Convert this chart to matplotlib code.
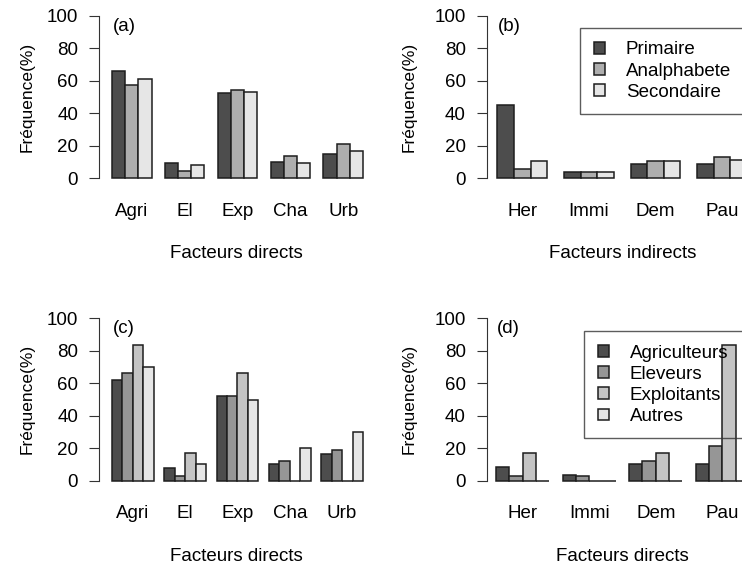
import numpy as np
import matplotlib
matplotlib.use('Agg')
import matplotlib.pyplot as plt

plt.rcParams['font.family'] = ['Liberation Sans', 'DejaVu Sans']

# donnees
cats_dir = ['Agri', 'El', 'Exp', 'Cha', 'Urb']
cats_ind = ['Her', 'Immi', 'Dem', 'Pau']

noms_edu = ['Primaire', 'Analphabete', 'Secondaire']
a_primaire = [66.0, 9.0, 52.5, 9.7, 14.6]
a_analpha = [57.6, 4.5, 54.1, 13.4, 21.2]
a_second = [60.9, 7.8, 52.9, 9.3, 16.9]

b_primaire = [45.1, 3.5, 8.6, 8.6]
b_analpha = [5.8, 3.5, 10.7, 13.2]
b_second = [10.7, 3.5, 10.7, 11.3]

noms_act = ['Agriculteurs', 'Eleveurs', 'Exploitants', 'Autres']
c_agri = [62.1, 7.8, 52.3, 10.0, 16.2]
c_elev = [66.4, 2.7, 52.3, 11.9, 18.6]
c_expl = [83.2, 16.8, 66.4, 0.0, 0.0]
c_autres = [69.9, 10.0, 49.8, 19.9, 29.9]

d_agri = [8.6, 3.3, 10.0, 10.0]
d_elev = [2.7, 3.1, 11.9, 21.3]
d_expl = [16.8, 0.0, 16.8, 83.2]
d_autres = [0.0, 0.0, 0.0, 0.0]

gris3 = ['#4D4D4D', '#AEAEAE', '#E6E6E6']
gris4 = ['#4D4D4D', '#969696', '#C4C4C4', '#E6E6E6']

W, H = 742, 566
fig = plt.figure(figsize=(W/100, H/100), dpi=100)
FS = 13.5


def rect(x0, x1, ytop, ybot):
    return [x0/W, 1 - ybot/H, (x1 - x0)/W, (ybot - ytop)/H]


def panel(r, xlim, cats, series, noms, cols, tag, xlab, ylab_x, leg=None):
    ax = fig.add_axes(r)
    n = len(series)
    for i, (vals, col) in enumerate(zip(series, cols)):
        x = 1 + np.arange(len(cats))*(n + 1) + i
        ax.bar(x, vals, width=1, align='edge', color=col,
               edgecolor='#1e1e1e', linewidth=1.1, label=noms[i])
    centres = 1 + np.arange(len(cats))*(n + 1) + n/2
    ax.set_xlim(*xlim)
    ax.set_ylim(-4, 104)
    ax.set_xticks(centres, cats)
    ax.set_yticks([0, 20, 40, 60, 80, 100])
    for s in ['top', 'right', 'bottom']:
        ax.spines[s].set_visible(False)
    ax.spines['left'].set_bounds(0, 100)
    ax.spines['left'].set_color('#333333')
    ax.tick_params(axis='x', length=0, pad=13, labelsize=FS)
    ax.tick_params(axis='y', length=7, pad=8, labelsize=FS, color='#333333')
    ax.set_xlabel(xlab, fontsize=FS)
    ax.xaxis.set_label_coords(0.5, -0.345)
    ax.xaxis.label.set_va('top')
    ax.set_ylabel('Fréquence(%)', fontsize=12.5)
    ax.yaxis.set_label_coords(ylab_x, 0.5)
    ax.text(1.05, 93.8, tag, fontsize=FS, va='center', ha='left')
    ax.patch.set_visible(False)
    if leg is not None:
        lg = ax.legend(loc='upper left',
                       bbox_to_anchor=(leg[0], leg[1] - 0.3, 240/W, 0.3),
                       bbox_transform=fig.transFigure, mode='expand',
                       fontsize=FS, frameon=True, fancybox=False,
                       borderaxespad=0, borderpad=0.72, labelspacing=0.22,
                       handlelength=0.62, handleheight=0.55,
                       handletextpad=1.1)
        lg.get_frame().set_facecolor('none')
        lg.get_frame().set_edgecolor('#333333')
        lg.get_frame().set_linewidth(1.0)
        lg.set_zorder(5)
    return ax


panel(rect(99, 373, 9.5, 184.5), (0.016, 20.76), cats_dir,
      [a_primaire, a_analpha, a_second], noms_edu, gris3, '(a)',
      'Facteurs directs', -0.235)
panel(rect(486.5, 759, 9.5, 184.5), (0.34, 16.72), cats_ind,
      [b_primaire, b_analpha, b_second], noms_edu, gris3, '(b)',
      'Facteurs indirects', -0.255, leg=(580/W, 1 - 28/H))
panel(rect(99, 373, 311.5, 487.2), (-0.24, 25.96), cats_dir,
      [c_agri, c_elev, c_expl, c_autres], noms_act, gris4, '(c)',
      'Facteurs directs', -0.235)
panel(rect(486.5, 759, 311.5, 487.2), (0.29, 20.75), cats_ind,
      [d_agri, d_elev, d_expl, d_autres], noms_act, gris4, '(d)',
      'Facteurs directs', -0.255, leg=(584/W, 1 - 331/H))

fig.savefig('out.png', dpi=100, facecolor='white')
